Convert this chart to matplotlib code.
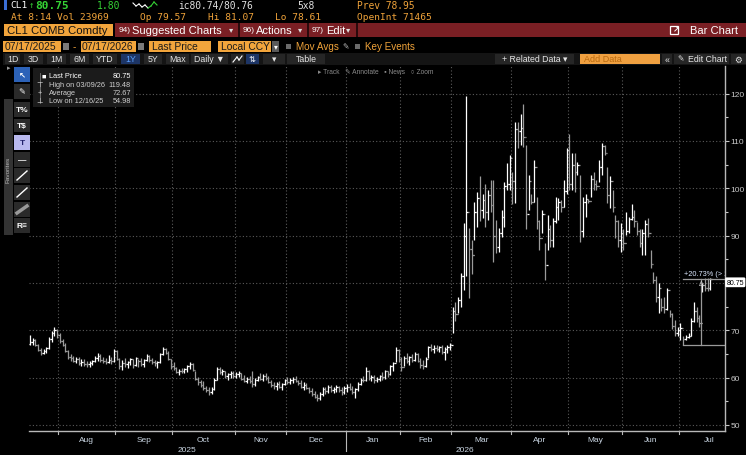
import matplotlib
matplotlib.use("Agg")
import matplotlib.pyplot as plt
from matplotlib.patches import Rectangle
from matplotlib.lines import Line2D
import numpy as np
import pandas as pd

plt.rcParams['font.family'] = ['Liberation Sans', 'DejaVu Sans']

W, H = 746, 456
ORANGE = '#f2a53c'
HDR = '#f0a33a'
RED = '#7a1f24'

# trading calendar (CL1 daily bars, 07/17/2025 - 07/17/2026)
holidays = ['2025-07-04', '2025-09-01', '2025-11-27', '2025-12-25', '2026-01-01',
            '2026-01-19', '2026-02-16', '2026-04-03', '2026-05-25', '2026-06-19',
            '2026-07-03']
dates = pd.bdate_range('2025-07-17', '2026-07-17').difference(pd.to_datetime(holidays))

# one line per month: Jul25, Aug, Sep, Oct, Nov, Dec, Jan26, Feb, Mar, Apr, May, Jun, Jul26
highs = [
    69.0, 68.3, 68.1, 67.2, 66.2, 66.0, 66.5, 68.6, 69.8, 70.7, 70.3,
    69.5, 68.2, 67.4, 65.8, 64.9, 64.6, 64.4, 64.3, 64.0, 63.9, 63.6, 63.5, 63.8, 64.6, 65.3, 65.0, 64.4, 64.2, 64.8, 64.3, 66.0,
    65.9, 64.1, 63.8, 64.2, 63.5, 64.2, 64.0, 64.4, 64.0, 64.2, 64.0, 64.9, 64.7, 64.2, 63.8, 63.6, 65.2, 66.5, 66.3, 65.6, 64.0,
    63.2, 62.3, 61.8, 62.0, 62.0, 62.6, 63.2, 63.0, 61.5, 60.2, 59.6, 59.3, 58.3, 58.1, 58.0, 60.0, 62.3, 62.2, 61.8, 61.3, 61.0, 61.3, 61.3,
    61.1, 61.4, 61.0, 60.6, 60.2, 60.4, 61.3, 60.0, 60.4, 61.0, 60.7, 61.0, 60.4, 59.6, 59.1, 59.0, 59.3, 58.9, 59.8,
    60.2, 59.9, 60.2, 60.3, 59.6, 59.6, 59.0, 58.9, 58.1, 57.8, 57.2, 56.6, 57.0, 58.1, 58.0, 58.5, 58.4, 58.0, 58.5, 58.3, 58.0, 58.3,
    58.6, 58.9, 58.2, 57.9, 59.0, 60.0, 60.3, 62.3, 61.6, 60.6, 60.5, 60.2, 60.6, 61.2, 61.7, 61.5, 62.7, 63.4, 66.5, 66.0,
    64.4, 64.6, 65.3, 64.6, 65.0, 65.5, 65.2, 64.2, 63.8, 64.4, 66.6, 67.2, 66.8, 67.0, 66.7, 67.0, 66.4, 66.9, 67.4,
    75.0, 76.0, 77.0, 82.2, 92.7, 119.48, 91.7, 89.1, 97.2, 99.3, 102.5, 98.7, 100.8, 99.7, 101.8, 101.8, 93.4, 91.7, 95.5, 101.4, 105.4, 107.1,
    103.5, 114.1, 114.0, 115.6, 117.7, 109.2, 102.9, 98.7, 106.0, 98.2, 93.4, 95.5, 88.5, 94.4, 92.3, 93.8, 98.2, 98.0, 97.6, 101.8, 108.6,
    111.4, 107.5, 107.5, 105.6, 102.9, 98.2, 98.7, 97.8, 102.9, 103.5, 101.8, 106.0, 109.6, 109.2, 104.6, 102.5, 99.7, 94.4, 93.4, 92.7,
    91.5, 94.9, 94.0, 96.6, 95.5, 92.9, 91.3, 91.3, 93.4, 93.8, 87.0, 82.4, 81.4, 80.0, 76.9, 77.1, 79.0, 74.3, 73.7, 72.2, 70.8,
    71.6, 68.7, 69.0, 69.5, 72.6, 76.0, 75.0, 73.3, 80.0, 81.0, 81.0, 81.07,
]
lows = [
    66.8, 66.9, 66.6, 65.6, 64.8, 64.9, 65.3, 66.0, 67.6, 68.8, 68.4,
    67.4, 66.6, 65.4, 63.9, 63.5, 63.3, 63.1, 62.6, 62.4, 62.5, 62.3, 62.2, 62.6, 63.2, 63.6, 63.4, 63.0, 62.8, 63.0, 62.9, 63.4,
    63.8, 61.8, 61.7, 62.3, 62.1, 62.6, 62.0, 62.4, 62.3, 62.4, 62.2, 63.5, 63.4, 62.9, 62.5, 62.0, 63.0, 64.8, 64.9, 63.8, 61.9,
    61.7, 60.9, 60.6, 60.9, 61.0, 61.2, 61.8, 61.3, 59.6, 58.5, 58.0, 57.4, 56.9, 56.4, 56.6, 57.4, 59.5, 60.8, 60.6, 59.9, 59.6, 60.0, 60.0,
    60.0, 60.2, 59.4, 59.0, 58.9, 58.9, 58.1, 58.2, 59.2, 59.6, 59.2, 59.6, 58.9, 58.1, 57.5, 57.4, 57.8, 57.4, 58.5,
    58.7, 58.6, 58.9, 59.0, 58.4, 57.8, 57.4, 57.6, 56.8, 56.2, 55.6, 54.98, 55.3, 56.2, 56.6, 56.8, 57.0, 56.8, 57.0, 56.9, 56.4, 56.6,
    57.0, 57.3, 56.6, 55.7, 57.2, 58.5, 59.0, 59.2, 59.6, 59.2, 58.9, 59.0, 59.3, 59.6, 59.8, 60.2, 60.6, 61.5, 63.2, 63.4,
    61.3, 62.4, 63.0, 62.7, 63.3, 63.6, 63.2, 62.1, 61.9, 62.2, 64.2, 65.6, 65.3, 65.6, 65.4, 64.9, 63.8, 65.2, 65.8,
    69.5, 72.0, 73.7, 75.0, 78.6, 81.4, 76.9, 81.8, 89.1, 91.9, 93.0, 93.8, 91.9, 93.4, 94.9, 84.5, 86.4, 86.6, 89.8, 91.9, 99.7, 99.7,
    96.6, 96.9, 108.5, 109.2, 108.8, 91.3, 95.5, 96.6, 97.2, 91.3, 87.0, 90.6, 80.7, 87.0, 87.7, 87.7, 92.7, 93.4, 94.9, 96.1, 98.7,
    99.7, 99.7, 99.3, 102.9, 88.7, 89.8, 94.0, 96.8, 98.2, 99.7, 99.7, 101.4, 102.9, 107.1, 96.9, 95.9, 94.9, 89.6, 87.5, 86.6,
    87.0, 90.2, 90.6, 93.4, 91.9, 90.2, 87.7, 86.0, 86.0, 89.8, 83.2, 80.0, 76.0, 73.7, 74.0, 73.7, 74.3, 72.9, 70.2, 68.7, 68.7,
    68.0, 66.9, 67.9, 68.4, 68.7, 71.8, 71.8, 70.8, 78.0, 78.2, 78.2, 78.61,
]
closes = [
    67.6, 67.9, 67.0, 65.9, 65.2, 65.6, 66.2, 68.2, 69.4, 70.0, 69.0,
    67.8, 67.0, 65.7, 64.4, 64.2, 63.6, 63.9, 63.0, 63.4, 62.9, 62.8, 63.1, 63.5, 64.2, 64.6, 63.8, 63.6, 63.4, 63.7, 63.5, 65.6,
    64.0, 62.4, 63.1, 62.8, 63.2, 63.9, 62.7, 64.1, 63.5, 62.8, 63.8, 64.5, 63.8, 63.2, 63.0, 63.3, 64.9, 66.0, 65.2, 64.0, 62.5,
    62.0, 61.2, 61.5, 61.3, 61.8, 62.4, 62.9, 61.6, 59.8, 59.0, 58.4, 57.8, 57.3, 56.9, 57.6, 59.6, 61.8, 61.2, 61.4, 60.4, 60.7, 60.9, 60.3,
    60.8, 60.9, 59.7, 59.3, 59.8, 59.2, 58.6, 59.6, 60.1, 59.8, 60.3, 59.9, 59.1, 58.5, 58.2, 58.7, 58.0, 58.6, 59.4,
    59.0, 59.5, 59.8, 59.2, 58.8, 58.1, 58.5, 57.9, 57.1, 56.6, 56.0, 55.6, 56.5, 57.6, 57.2, 58.1, 57.4, 57.6, 58.0, 57.3, 56.9, 57.8,
    58.1, 57.6, 57.0, 57.5, 58.7, 59.6, 59.4, 61.4, 60.0, 60.1, 59.5, 59.8, 60.4, 60.2, 61.3, 60.8, 62.4, 63.1, 65.9, 64.0,
    62.2, 64.2, 63.5, 64.3, 63.8, 64.9, 63.6, 62.6, 62.4, 64.0, 66.4, 66.0, 66.3, 66.1, 66.4, 65.5, 66.0, 66.5, 67.0,
    74.0, 73.5, 76.5, 81.5, 90.0, 94.9, 87.2, 86.0, 95.0, 98.0, 95.5, 97.5, 95.0, 98.5, 96.5, 90.0, 87.5, 90.5, 94.0, 100.5, 101.0, 106.5,
    101.5, 112.5, 112.0, 112.8, 110.9, 94.5, 101.5, 97.0, 104.5, 93.0, 89.5, 94.5, 83.7, 91.5, 89.0, 93.0, 96.0, 97.0, 96.0, 99.5, 108.0,
    101.0, 105.0, 103.5, 105.0, 91.0, 97.0, 97.8, 97.4, 102.0, 101.0, 100.5, 104.5, 109.0, 107.5, 98.5, 101.5, 96.0, 93.0, 89.0, 90.5,
    88.5, 91.0, 93.5, 94.0, 93.0, 91.0, 88.5, 90.5, 92.5, 90.5, 84.0, 80.6, 77.0, 79.0, 75.0, 74.5, 78.5, 73.5, 71.0, 69.5, 70.0,
    70.5, 68.2, 68.5, 68.8, 72.0, 74.0, 72.5, 71.5, 79.5, 79.0, 78.95, 80.75,
]
first_open = 67.2

legend_rows = [('■', 'Last Price', '80.75'), ('⊤', 'High on 03/09/26', '119.48'),
               ('+', 'Average', '72.67'), ('⊥', 'Low on 12/16/25', '54.98')]
y_ticks = [50, 60, 70, 80, 90, 100, 110, 120]
last_price = 80.75
measure_low = 66.9


def fx(x):
    return x / W


def fy(y):
    return 1 - y / H


fig = plt.figure(figsize=(W / 100, H / 100), dpi=100, facecolor='black')


def box(x0, y0, x1, y1, color, ec='none', lw=0.0, z=1):
    fig.add_artist(Rectangle((fx(x0), fy(y1)), (x1 - x0) / W, (y1 - y0) / H,
                             transform=fig.transFigure, facecolor=color,
                             edgecolor=ec, linewidth=lw, zorder=z))


def txt(x, y, s, size=7.0, color='white', ha='left', fam=None, weight='normal', z=5, **kw):
    fam = fam or ['Liberation Sans', 'DejaVu Sans']
    fig.text(fx(x), fy(y), s, fontsize=size, color=color, ha=ha, va='center',
             family=fam, fontweight=weight, zorder=z, **kw)


def seg(x0, y0, x1, y1, color='white', lw=1.0, z=4):
    fig.add_artist(Line2D([fx(x0), fx(x1)], [fy(y0), fy(y1)], transform=fig.transFigure,
                          color=color, linewidth=lw, zorder=z))


# ---------------- price chart ----------------
n = len(dates)
xi = np.arange(n)
hi = np.array(highs)
lo = np.array(lows)
cl = np.array(closes)
op = np.concatenate([[first_open], cl[:-1]])
up = cl >= op
cols = np.where(up, '#ffffff', '#9b9b9b')

px_per_bar = 2.71
ax = fig.add_axes([fx(29), fy(432), (725 - 29) / W, (432 - 67) / H])
ax.set_facecolor('black')
ax.set_xlim((29 - 30) / px_per_bar, (725 - 30) / px_per_bar)
ax.set_ylim(48.73, 125.83)

ax.vlines(xi, lo, hi, colors=cols, linewidth=0.9, zorder=3)
ax.hlines(op, xi - 0.5, xi, colors=cols, linewidth=0.9, zorder=3)
ax.hlines(cl, xi, xi + 0.5, colors=cols, linewidth=0.9, zorder=3)

# grid
month_starts = [i for i in range(1, n) if dates[i].month != dates[i - 1].month]
for v in y_ticks:
    ax.axhline(v, color='#5a5a5a', linewidth=0.8, linestyle=(0, (1, 2)), zorder=1)
for i in month_starts:
    ax.axvline(i - 0.5, color='#5a5a5a', linewidth=0.8, linestyle=(0, (1, 2)), zorder=1)

for s in ['left', 'top']:
    ax.spines[s].set_visible(False)
for s in ['bottom', 'right']:
    ax.spines[s].set_color('#b8b8b8')
    ax.spines[s].set_linewidth(1.0)

ax.yaxis.tick_right()
ax.set_yticks(y_ticks)
# the 80 label sits under the last-price flag
ax.set_yticklabels(['' if v == 80 else str(v) for v in y_ticks])
ax.set_yticks([v + 5 for v in y_ticks[:-1]], minor=True)
ax.tick_params(axis='y', which='major', colors='#c8c8c8', labelsize=6, length=3, width=0.8, pad=1)
ax.tick_params(axis='y', which='minor', colors='#c8c8c8', length=2, width=0.8)
ax.set_xticks([])

# ticks under the time axis
tr = ax.get_xaxis_transform()
for i in month_starts:
    long = dates[i].month == 1
    ax.plot([i - 0.5, i - 0.5], [0, -(20 if long else 3) / 365], transform=tr,
            color='#b8b8b8', linewidth=0.8, clip_on=False)

# month labels centred on the full trading month
full = pd.bdate_range('2025-07-01', '2026-07-31').difference(pd.to_datetime(holidays))
full_pos = np.arange(len(full)) - full.get_loc(dates[0])
periods = full.to_period('M')
for per in periods.unique():
    c = full_pos[periods == per].mean()
    if 2 <= c <= n + 3:
        ax.text(c, -5 / 365, per.strftime('%b'), transform=tr, ha='center', va='top',
                fontsize=6, color='#c9d5e2', clip_on=False)
year_pos = {'2025': np.mean(xi[dates.year == 2025]), '2026': 160.5}
for yr, c in year_pos.items():
    ax.text(c, -15 / 365, yr, transform=tr, ha='center', va='top',
            fontsize=6, color='#c9d5e2', clip_on=False)

# measuring annotation at the right
mx = 247.6
ax.plot([241, 256], [last_price + 0.15, last_price + 0.15], color='#9a9a9a', linewidth=0.9, zorder=4)
ax.plot([241, 256], [measure_low, measure_low], color='#9a9a9a', linewidth=0.9, zorder=4)
ax.plot([mx, mx], [measure_low, last_price + 0.15], color='#9a9a9a', linewidth=0.9, zorder=4)
ax.text(241.5, last_price + 0.6, '+20.73% (> 1M)', fontsize=5.3, color='#dce8ff',
        va='bottom', ha='left', clip_on=True, zorder=5)
ax.text(mx, last_price - 0.2, 'Δ', fontsize=5, color='#cfcfcf', ha='center', va='top', zorder=5)

# last price flag
txt(726.5, 283.3, '80.75', size=5.0, color='black', z=8,
    bbox=dict(boxstyle='round,pad=0.2', fc='white', ec='none'))

# ---------------- header rows ----------------
mono = ['DejaVu Sans Mono']
box(4, 0, 7, 11, '#3b6fd6')
txt(10, 6, 'CL1', 6.8, 'white', fam=mono)
txt(29, 6, '↑', 6.5, '#35d335', fam=mono)
txt(35, 6, '80.75', 8.0, '#35d335', fam=mono, weight='bold')
txt(97, 6, '1.80', 7.0, '#35d335', fam=mono)
spark = [4, 7, 5, 8, 6, 9, 7, 3, 6]
for k in range(len(spark) - 1):
    col = 'white' if k < 5 else '#35d335'
    seg(133 + k * 3, spark[k], 133 + (k + 1) * 3, spark[k + 1], col, 0.8, 6)
txt(178, 6, 'ic80.74/80.76', 6.9, '#e0e0e0', fam=mono)
txt(297, 6, '5x8', 6.9, '#e0e0e0', fam=mono)
txt(357, 6, 'Prev 78.95', 6.9, HDR, fam=mono)

txt(11, 17, 'At 8:14 Vol 23969', 6.8, HDR, fam=mono)
txt(140, 17, 'Op 79.57', 6.8, HDR, fam=mono)
txt(208, 17, 'Hi 81.07', 6.8, HDR, fam=mono)
txt(275, 17, 'Lo 78.61', 6.8, HDR, fam=mono)
txt(357, 17, 'OpenInt 71465', 6.8, HDR, fam=mono)

# row 3: security + red menu bar
box(4, 25, 113, 37, ORANGE)
txt(7, 31, 'CL1 COMB Comdty', 8.2, '#111111')
box(115, 24, 746, 38, RED)
box(238, 24, 240, 38, '#2a0a0c')
box(307, 24, 309, 38, '#2a0a0c')
box(356, 24, 358, 38, '#2a0a0c')
txt(119, 31, '94)', 6.0, 'white')
txt(132, 31, 'Suggested Charts', 8.0, 'white')
txt(229, 31, '▾', 6.0, '#dddddd')
txt(243, 31, '96)', 6.0, 'white')
txt(256, 31, 'Actions', 8.0, 'white')
txt(298, 31, '▾', 6.0, '#dddddd')
txt(312, 31, '97)', 6.0, 'white')
txt(326, 31, 'Edit', 8.0, 'white')
txt(346, 31, '▾', 6.0, '#dddddd')
box(670, 27, 678, 35, 'none', ec='white', lw=0.9, z=5)
txt(672.5, 30, '↗', 6.0, 'white', weight='bold')
txt(690, 31, 'Bar Chart', 8.0, 'white')

# row 4: date range, field, currency
box(3, 42, 61, 53, ORANGE)
txt(5, 47.5, '07/17/2025', 7.4, '#1a1a1a')
box(63, 44, 69, 51, '#7a7a7a')
txt(73, 47.5, '-', 7.2, ORANGE)
box(81, 42, 136, 53, ORANGE)
txt(82, 47.5, '07/17/2026', 7.4, '#1a1a1a')
box(138, 44, 144, 51, '#7a7a7a')
box(149, 42, 211, 53, ORANGE)
txt(152, 47.5, 'Last Price', 7.4, '#1a1a1a')
box(218, 42, 271, 53, ORANGE)
txt(221, 47.5, 'Local CCY', 7.4, '#1a1a1a')
box(272, 42, 279, 53, '#5a5a5a')
txt(273.5, 47.5, '▾', 5.5, 'white')
box(286, 45, 291, 50, '#6a6a6a')
txt(296, 47.5, 'Mov Avgs', 7.1, HDR)
txt(342, 47.5, '✎', 5.5, '#bbbbbb')
box(355, 45, 360, 50, '#6a6a6a')
txt(365, 47.5, 'Key Events', 7.1, HDR)

# row 5: period buttons
box(3, 54, 746, 66, '#141414')
buttons = [(5, 20, '1D'), (24, 43, '3D'), (47, 66, '1M'), (70, 89, '6M'), (93, 117, 'YTD'),
           (121, 140, '1Y'), (144, 162, '5Y'), (166, 189, 'Max'), (191, 228, 'Daily ▼'),
           (231, 244, ''), (246, 259, ''), (263, 285, '▾'), (287, 325, 'Table'),
           (495, 574, '+ Related Data ▾'), (662, 672, '«'), (674, 729, ''),
           (731, 746, '⚙')]
for b0, b1, lab in buttons:
    sel = lab == '1Y' or b0 == 246
    box(b0, 55, b1, 65, '#1d3566' if sel else '#262626')
    if lab:
        txt((b0 + b1) / 2, 60, lab, 6.3, '#5aa0ff' if lab == '1Y' else '#e6e6e6', ha='center')
txt(677, 60, '✎', 5.5, '#e6e6e6')
txt(688, 60, 'Edit Chart', 6.3, '#e6e6e6')
seg(233, 63, 237, 58, 'white', 0.8, 6)
seg(237, 58, 239, 61, 'white', 0.8, 6)
seg(239, 61, 242, 57, 'white', 0.8, 6)
txt(252.5, 60, '⇅', 6.0, 'white', ha='center')
box(580, 55, 660, 65, '#f0a040')
txt(584, 60, 'Add Data', 6.5, '#b86a10')

# ---------------- chart overlays ----------------
# drawing toolbar
box(4, 100, 13, 236, '#333333')
txt(8.5, 170, 'Favorites', 4.6, '#bbbbbb', ha='center', rotation=90)
txt(7, 69, '▸', 5, '#9a9a9a')
tools = [(68, 83, '#2c62b8', '↖'), (85, 100, '#2a2a2a', '✎'), (103, 118, '#2a2a2a', 'T%'),
         (120, 133, '#2a2a2a', 'T$'), (136, 151, '#b9b9ef', 'T'), (153, 168, '#2a2a2a', '—'),
         (169, 184, '#2a2a2a', ''), (186, 201, '#2a2a2a', ''), (203, 218, '#2a2a2a', ''),
         (219, 234, '#2a2a2a', 'R≡')]
for t0, t1, c, lab in tools:
    box(14, t0, 30, t1, c, z=6)
    if lab:
        txt(22, (t0 + t1) / 2, lab, 6.0, '#20206a' if lab == 'T' else 'white', ha='center',
            weight='bold', z=7)
seg(17, 181, 27, 172, 'white', 1.0, 7)
seg(17, 198, 27, 189, 'white', 1.0, 7)
seg(17, 214, 27, 207, '#9a9a9a', 2.5, 7)

# legend box
box(33, 69, 134, 108, '#1b1b1b', z=6)
seg(40, 74, 40, 104, '#777777', 0.6, 7)
for k, (sym, lab, val) in enumerate(legend_rows):
    yy = 77 + k * 8.3
    c = 'white' if k == 0 else '#cfcfcf'
    txt(44 if k == 0 else 40, yy, sym, 5.3, c, ha='center', z=8)
    txt(49, yy, lab, 5.3, c, z=8)
    txt(131, yy, val, 5.3, c, ha='right', z=8)

# top-centre chart tools
txt(318, 72, '▸ Track   ✎ Annotate   ▪ News   ○ Zoom', 4.8, '#8a8a8a', z=6)

fig.savefig('out.png', dpi=100, facecolor='black')
